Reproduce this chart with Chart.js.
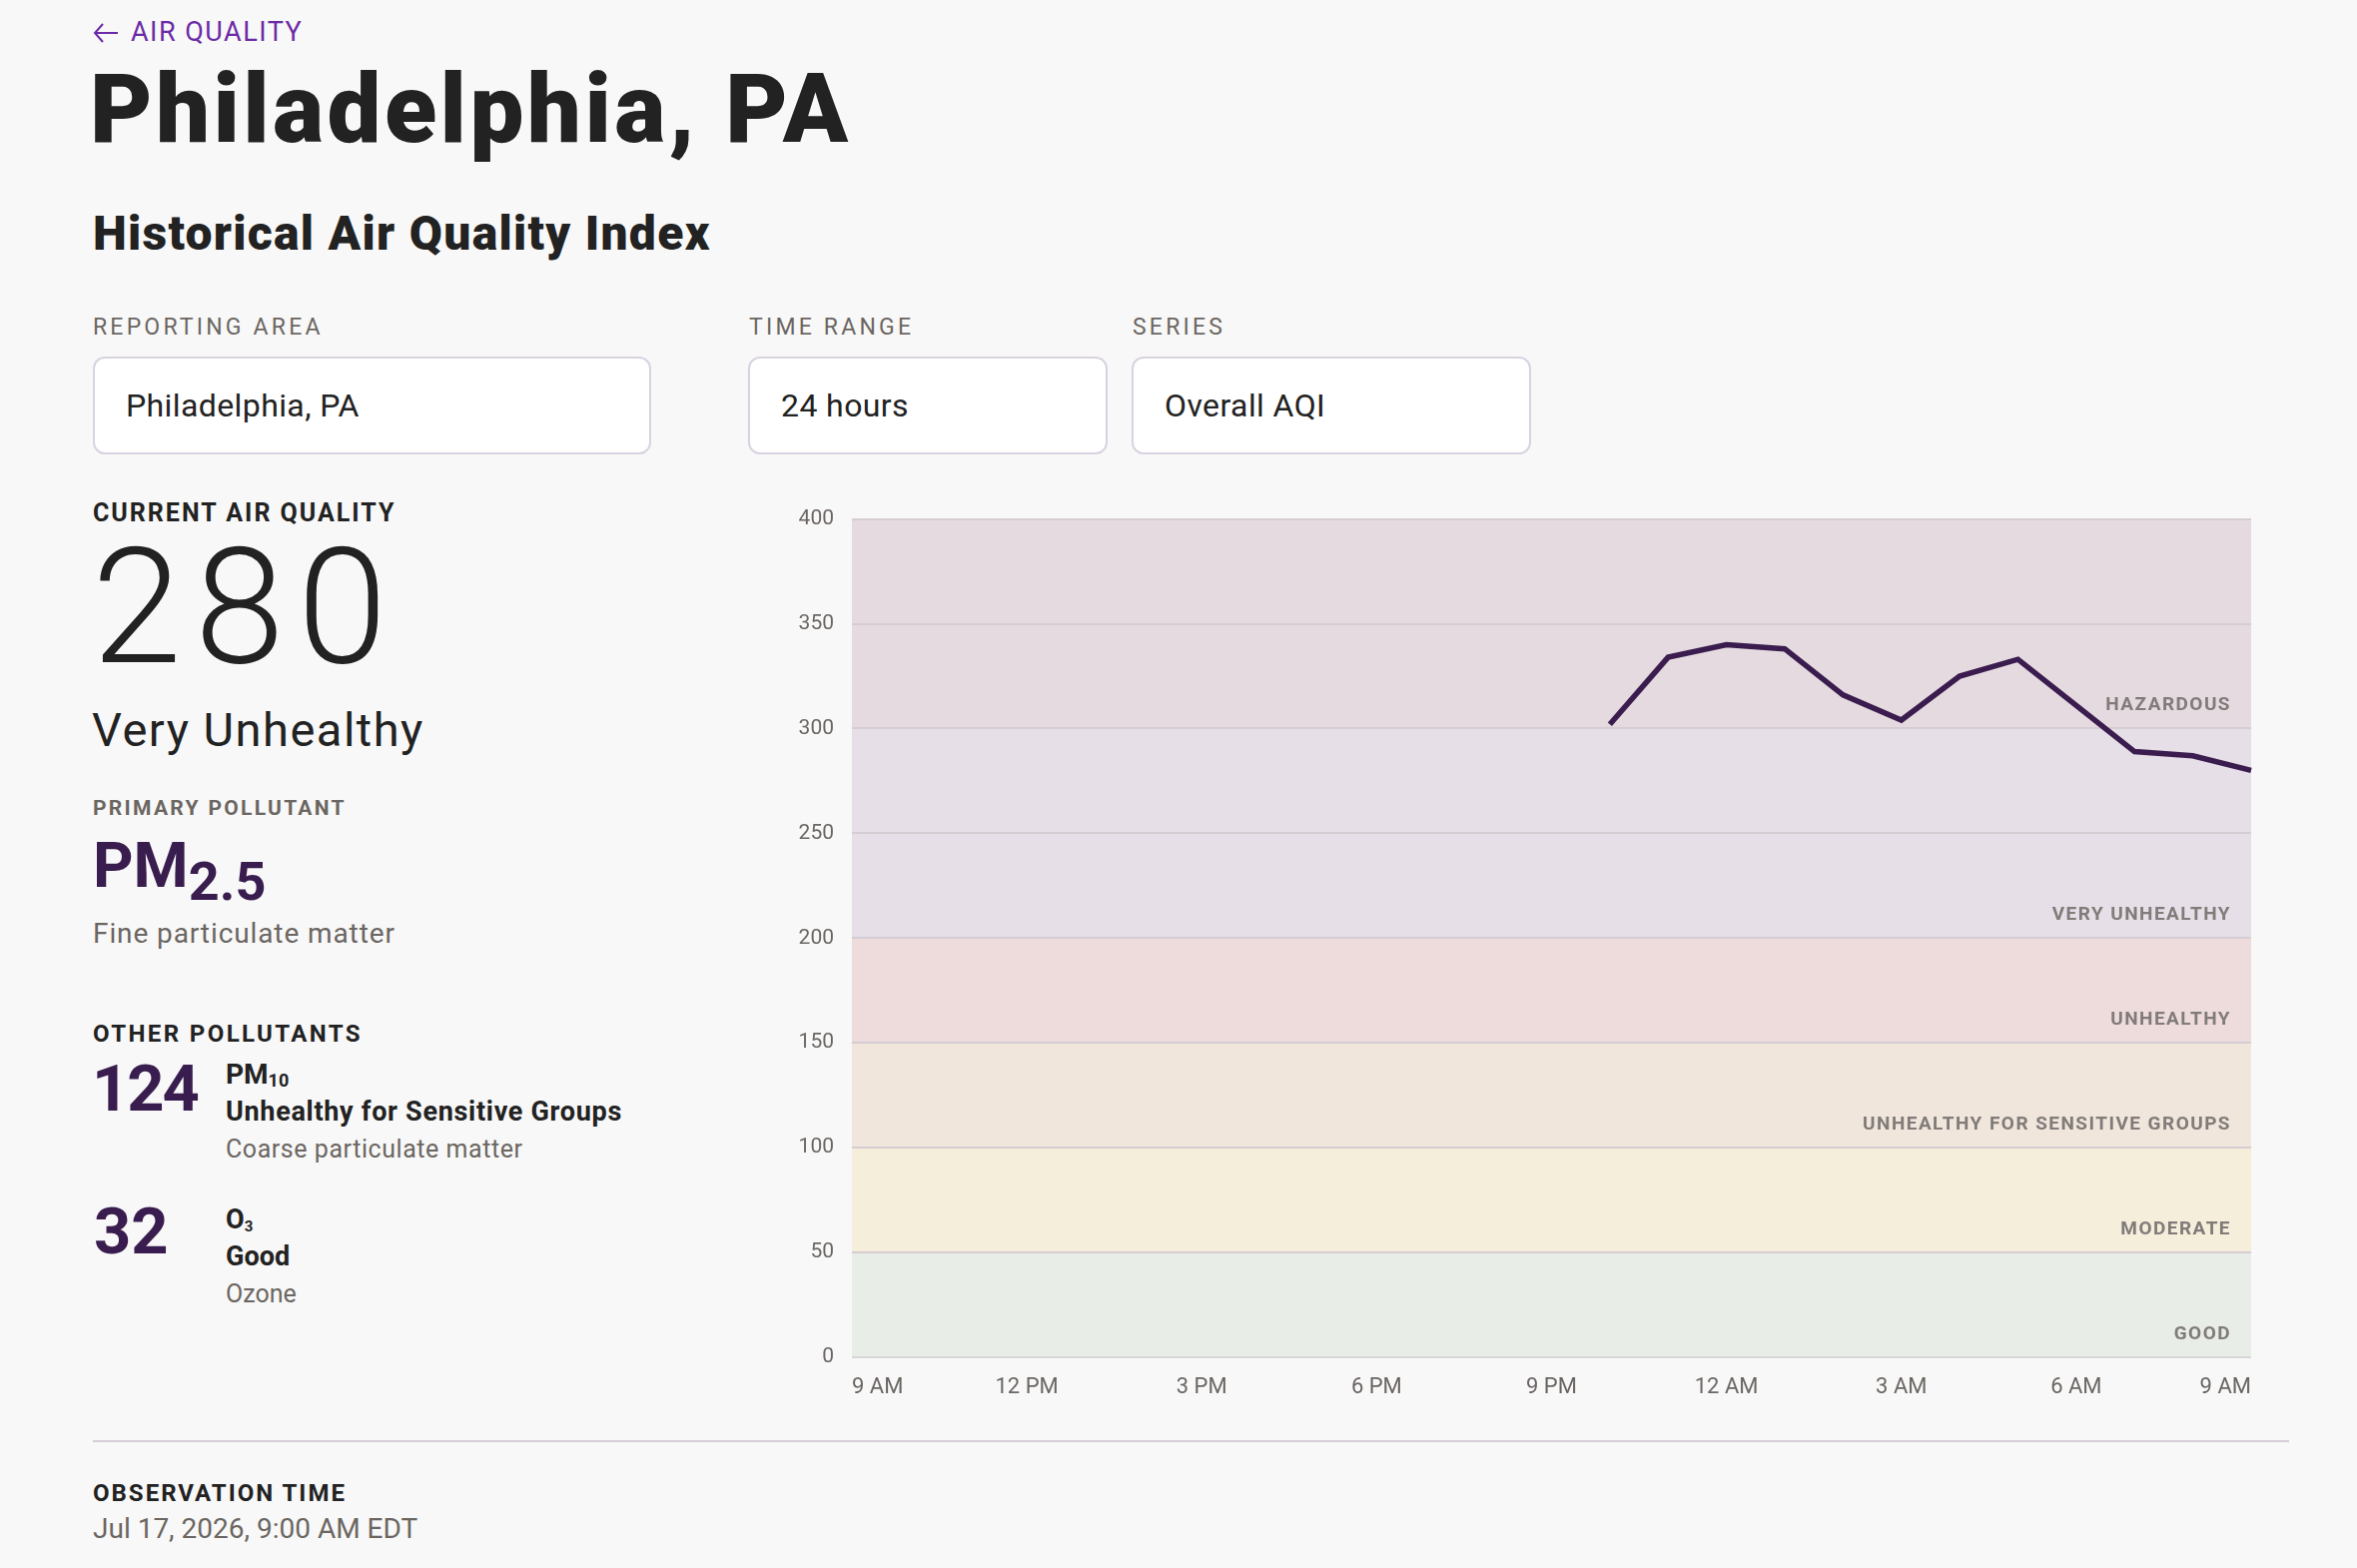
<!DOCTYPE html>
<html lang="en">
<head>
  <meta charset="UTF-8">
  <title>Philadelphia, PA - Historical Air Quality Index</title>
  <script src="https://cdn.jsdelivr.net/npm/chart.js"></script>
  <style>
    html, body { margin: 0; padding: 0; }
    body { width: 2360px; height: 1570px; background: #f8f8f8; font-family: Roboto, "Noto Sans", sans-serif; color: #222; position: relative; overflow: hidden; }
    .abs { position: absolute; white-space: nowrap; line-height: 1; }
    .back { color: #6b2ba6; font-size: 27px; letter-spacing: 1.5px; }
    .title { font-size: 96px; font-weight: 900; letter-spacing: 3.4px; }
    .subtitle { font-size: 48px; font-weight: 900; letter-spacing: 1.3px; }
    .field-label { font-size: 23px; color: #6b6661; letter-spacing: 3.2px; }
    .box { position: absolute; top: 357px; height: 98px; box-sizing: border-box; background: #fff; border: 2px solid #d9d2e0; border-radius: 12px; display: flex; align-items: center; padding-left: 31px; font-size: 32px; letter-spacing: 0.4px; color: #222; }
    .caps { font-weight: 700; letter-spacing: 2px; }
    .big { font-size: 162px; font-weight: 300; letter-spacing: 13px; }
    .status { font-size: 47px; letter-spacing: 1.5px; }
    .purple { color: #3a1d4f; font-weight: 700; }
    .muted { color: #6b6661; }
    .sub { position: relative; }
    .divider { position: absolute; left: 93px; top: 1442px; width: 2199px; height: 2px; background: #d6cdd9; }
    #chartBox { position: absolute; left: 780px; top: 489px; width: 1493px; height: 920px; }
  </style>
</head>
<body>
  <svg class="abs" style="left:93px; top:22px" width="26" height="22" viewBox="0 0 26 22">
    <polyline points="10,2 2,11 10,20" fill="none" stroke="#6b2ba6" stroke-width="2"/>
    <line x1="2" y1="11" x2="25" y2="11" stroke="#6b2ba6" stroke-width="2"/>
  </svg>
  <div class="abs back" style="left:131px; top:19px">AIR QUALITY</div>
  <div class="abs title" style="left:90px; top:61px">Philadelphia, PA</div>
  <div class="abs subtitle" style="left:93px; top:210px">Historical Air Quality Index</div>

  <div class="abs field-label" style="left:93px; top:316px">REPORTING AREA</div>
  <div class="abs field-label" style="left:750px; top:316px">TIME RANGE</div>
  <div class="abs field-label" style="left:1134px; top:316px">SERIES</div>
  <div class="box" style="left:93px; width:559px">Philadelphia, PA</div>
  <div class="box" style="left:749px; width:360px">24 hours</div>
  <div class="box" style="left:1133px; width:400px">Overall AQI</div>

  <div class="abs caps" style="left:93px; top:501px; font-size:25px">CURRENT AIR QUALITY</div>
  <div class="abs big" style="left:92px; top:527px">280</div>
  <div class="abs status" style="left:92px; top:707px">Very Unhealthy</div>

  <div class="abs caps muted" style="left:93px; top:799px; font-size:21px; letter-spacing:2.3px">PRIMARY POLLUTANT</div>
  <div class="abs purple" style="left:93px; top:835px; font-size:63px">PM<span class="sub" style="font-size:54px; top:13px">2.5</span></div>
  <div class="abs muted" style="left:93px; top:921px; font-size:28px; letter-spacing:0.9px">Fine particulate matter</div>

  <div class="abs caps" style="left:93px; top:1023px; font-size:24px; letter-spacing:2.4px">OTHER POLLUTANTS</div>
  <div class="abs purple" style="left:92px; top:1058px; font-size:65px; letter-spacing:-2px">124</div>
  <div class="abs" style="left:226px; top:1062px; font-size:28px; font-weight:700">PM<span class="sub" style="font-size:18px; top:3px">10</span></div>
  <div class="abs" style="left:226px; top:1100px; font-size:27px; font-weight:700; letter-spacing:0.7px">Unhealthy for Sensitive Groups</div>
  <div class="abs muted" style="left:226px; top:1138px; font-size:25px; letter-spacing:0.55px">Coarse particulate matter</div>

  <div class="abs purple" style="left:94px; top:1201px; font-size:65px">32</div>
  <div class="abs" style="left:226px; top:1208px; font-size:27px; font-weight:700">O<span class="sub" style="font-size:15px; top:3px">3</span></div>
  <div class="abs" style="left:226px; top:1245px; font-size:27px; font-weight:700">Good</div>
  <div class="abs muted" style="left:226px; top:1283px; font-size:25px">Ozone</div>

  <div id="chartBox"><canvas id="chart"></canvas></div>

  <div class="divider"></div>
  <div class="abs caps" style="left:93px; top:1483px; font-size:24px">OBSERVATION TIME</div>
  <div class="abs muted" style="left:93px; top:1517px; font-size:28px">Jul 17, 2026, 9:00 AM EDT</div>

  <script>
    // hourly x categories, 9 AM to 9 AM
    const hourLabels = ['9 AM', '10 AM', '11 AM', '12 PM', '1 PM', '2 PM', '3 PM', '4 PM', '5 PM', '6 PM', '7 PM', '8 PM', '9 PM',
      '10 PM', '11 PM', '12 AM', '1 AM', '2 AM', '3 AM', '4 AM', '5 AM', '6 AM', '7 AM', '8 AM', '9 AM'];
    const tickLabels = ['9 AM', '12 PM', '3 PM', '6 PM', '9 PM', '12 AM', '3 AM', '6 AM', '9 AM'];
    // overall AQI, no readings before 10 PM
    const aqiValues = [null, null, null, null, null, null, null, null, null, null, null, null, null,
      302, 334, 340, 338, 316, 304, 325, 333, 311, 289, 287, 280];

    // AQI category bands
    const bandNames = ['GOOD', 'MODERATE', 'UNHEALTHY FOR SENSITIVE GROUPS', 'UNHEALTHY', 'VERY UNHEALTHY', 'HAZARDOUS'];
    const bandFrom = [0, 50, 100, 150, 200, 300];
    const bandTo = [50, 100, 150, 200, 300, 400];
    const bandColors = ['#e8ede7', '#f4eedb', '#f0e6dc', '#eedcdd', '#e6dfe7', '#e4dadf'];

    const aqiBands = {
      id: 'aqiBands',
      beforeDraw(chart) {
        const { ctx, chartArea: a, scales: { y } } = chart;
        ctx.save();
        bandNames.forEach((name, i) => {
          const top = y.getPixelForValue(bandTo[i]);
          const bottom = y.getPixelForValue(bandFrom[i]);
          ctx.fillStyle = bandColors[i];
          ctx.fillRect(a.left, top, a.right - a.left, bottom - top);
        });
        ctx.restore();
      },
      beforeDatasetsDraw(chart) {
        const { ctx, chartArea: a, scales: { y } } = chart;
        ctx.save();
        ctx.font = 'bold 19px Roboto';
        ctx.letterSpacing = '1.45px';
        ctx.fillStyle = '#817b79';
        ctx.textAlign = 'right';
        ctx.textBaseline = 'middle';
        bandNames.forEach((name, i) => {
          ctx.fillText(name, a.right - 20, y.getPixelForValue(bandFrom[i]) - 23);
        });
        ctx.restore();
      }
    };

    const ctx = document.getElementById('chart').getContext('2d');
    new Chart(ctx, {
      type: 'line',
      data: {
        labels: hourLabels,
        datasets: [{
          label: 'Overall AQI',
          data: aqiValues,
          borderColor: '#3b1c4f',
          borderWidth: 5.5,
          pointRadius: 0,
          tension: 0,
          spanGaps: false
        }]
      },
      options: {
        responsive: true,
        maintainAspectRatio: false,
        animation: false,
        layout: { padding: { top: 0, right: 19, left: 0, bottom: 0 } },
        plugins: { legend: { display: false }, tooltip: { enabled: false } },
        scales: {
          x: {
            offset: false,
            grid: { display: false },
            border: { display: false },
            afterFit: s => { s.height = 50; },
            ticks: {
              autoSkip: false,
              maxRotation: 0,
              align: 'inner',
              padding: 9,
              color: '#6b6663',
              font: { family: 'Roboto', size: 22 },
              callback: (v, i) => i % 3 === 0 ? tickLabels[i / 3] : ''
            }
          },
          y: {
            min: 0,
            max: 400,
            border: { display: false },
            afterFit: s => { s.width = 73; },
            grid: {
              drawTicks: false,
              lineWidth: 2,
              color: c => c.tick && c.tick.value === 0 ? '#d8d8d8' : '#d6cdd3'
            },
            ticks: {
              stepSize: 50,
              padding: 18,
              color: '#6b6663',
              font: { family: 'Roboto', size: 21 }
            }
          }
        }
      },
      plugins: [aqiBands]
    });
  </script>
</body>
</html>
